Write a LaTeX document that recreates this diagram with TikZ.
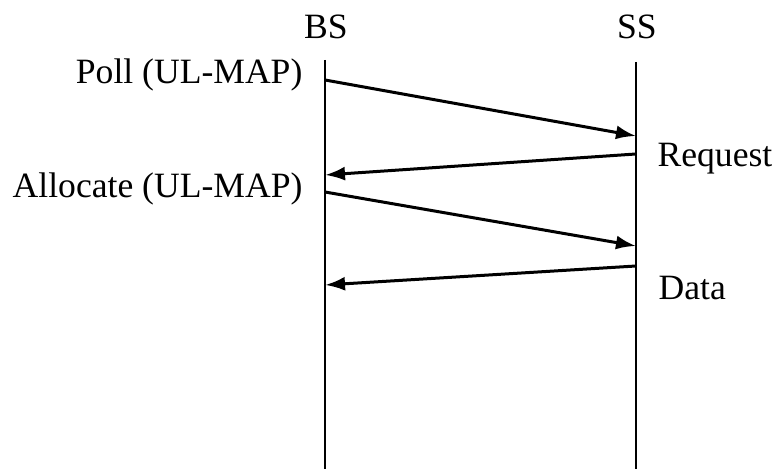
\documentclass[tikz,border=0pt]{standalone}
\usepackage{fontspec}
\setmainfont{Liberation Serif}
\usetikzlibrary{arrows.meta}

\begin{document}
\begin{tikzpicture}[x=0.5pt,y=-0.5pt,->,>={Latex[length=10pt,width=7pt]},semithick,
    font=\fontsize{17.8}{20}\selectfont]
          \tikzstyle{lifeline}=[-,line width=1.1pt,draw=black]
          \tikzstyle{msg}=[line width=1.5pt]
          \tikzstyle{lbl}=[inner sep=0pt,text=black]
          \useasboundingbox (0,0) rectangle (778,469);

          % the two stations
          \node[lbl] (BS) at (326,27) {BS};
          \node[lbl] (SS) at (637,27) {SS};
          \coordinate (bsTop) at (325,60);
          \coordinate (bsBot) at (325,469);
          \coordinate (ssTop) at (636,62);
          \coordinate (ssBot) at (636,469);
          \draw[lifeline] (bsTop) -- (bsBot);
          \draw[lifeline] (ssTop) -- (ssBot);

          % message ends
          \coordinate (p1) at (325,80);   \coordinate (q1) at (636,136);
          \coordinate (q2) at (636,154);  \coordinate (p2) at (325,175);
          \coordinate (p3) at (325,192);  \coordinate (q3) at (636,246);
          \coordinate (q4) at (636,266);  \coordinate (p4) at (325,285);

          \node[lbl,anchor=east] (poll)  at (303,75)  {Poll (UL-MAP)};
          \node[lbl,anchor=west] (req)   at (657,159) {Request};
          \node[lbl,anchor=east] (alloc) at (303,189) {Allocate (UL-MAP)};
          \node[lbl,anchor=west] (data)  at (658,288) {Data};

          \path (p1) edge[msg] (q1)
                (q2) edge[msg] (p2)
                (p3) edge[msg] (q3)
                (q4) edge[msg] (p4);
\end{tikzpicture}
\end{document}
